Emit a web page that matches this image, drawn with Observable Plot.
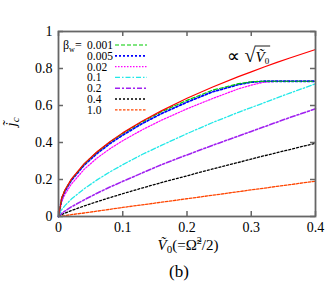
<!DOCTYPE html>
<html><head><meta charset="utf-8">
<script src="https://cdn.jsdelivr.net/npm/d3@7"></script>
<script src="https://cdn.jsdelivr.net/npm/@observablehq/plot@0.6"></script>
<style>
body{margin:0;background:#fff}
</style>
</head><body><div id="chart"></div>
<script>
// ---- data ----
const V0 = [0, 0.005, 0.01, 0.02, 0.04, 0.06, 0.08, 0.1, 0.13, 0.16, 0.2, 0.24, 0.28, 0.30, 0.32, 0.34, 0.36, 0.4];
const jSqrt  = [0, 0.101, 0.143, 0.202, 0.286, 0.350, 0.404, 0.452, 0.515, 0.571, 0.639, 0.700, 0.756, 0.782, 0.808, 0.833, 0.857, 0.903];
const j0001  = [0, 0.100, 0.142, 0.200, 0.284, 0.348, 0.402, 0.449, 0.511, 0.566, 0.628, 0.683, 0.718, 0.728, 0.731, 0.731, 0.731, 0.731];
const j0005  = [0, 0.096, 0.137, 0.195, 0.278, 0.341, 0.394, 0.440, 0.502, 0.556, 0.618, 0.674, 0.713, 0.726, 0.731, 0.731, 0.731, 0.731];
const j002   = [0, 0.080, 0.120, 0.175, 0.255, 0.316, 0.366, 0.410, 0.468, 0.520, 0.582, 0.638, 0.690, 0.710, 0.726, 0.731, 0.731, 0.731];
const j01    = [0, 0.037, 0.059, 0.094, 0.150, 0.198, 0.241, 0.280, 0.335, 0.384, 0.448, 0.508, 0.563, 0.589, 0.615, 0.641, 0.667, 0.717];
const j02    = [0, 0.017, 0.029, 0.052, 0.090, 0.126, 0.159, 0.190, 0.235, 0.280, 0.333, 0.385, 0.435, 0.460, 0.485, 0.510, 0.535, 0.582];
const j04    = [0, 0.010, 0.018, 0.032, 0.057, 0.080, 0.102, 0.123, 0.154, 0.183, 0.220, 0.257, 0.292, 0.310, 0.328, 0.345, 0.362, 0.396];
const j10    = [0, 0.003, 0.005, 0.010, 0.019, 0.029, 0.039, 0.049, 0.063, 0.077, 0.096, 0.115, 0.134, 0.144, 0.153, 0.163, 0.172, 0.191];
const betaLabels = ["0.001", "0.005", "0.02", "0.1", "0.2", "0.4", "1.0"];
const xTicks = [0, 0.1, 0.2, 0.3, 0.4];
const yTicks = [0, 0.2, 0.4, 0.6, 0.8, 1];

// ---- styles ----
const seriesValues = [j0001, j0005, j002, j01, j02, j04, j10];
const styles = [
  {color:"#00cc00", dash:"4,2",       w:1.2},
  {color:"#0000ff", dash:"2,2",       w:1.8},
  {color:"#ff00ff", dash:"1.5,1.5",   w:1.2},
  {color:"#22e8e8", dash:"5,2,1.5,2", w:1.3},
  {color:"#a020f0", dash:"5,2,2,2",   w:1.6},
  {color:"#000000", dash:"2,2",       w:1.3},
  {color:"#ff4500", dash:"2.5,1.5",   w:1.3}
];
const toRows = arr => V0.map((v, i) => ({V: v, j: arr[i]}));

const lineMarks = [];
for (let k = seriesValues.length - 1; k >= 0; k--) {
  lineMarks.push(Plot.line(toRows(seriesValues[k]), {
    x: "V", y: "j", stroke: styles[k].color, strokeWidth: styles[k].w,
    strokeDasharray: styles[k].dash
  }));
}
lineMarks.push(Plot.line(toRows(jSqrt), {x: "V", y: "j", stroke: "#ff0000", strokeWidth: 1.2}));

const fmt = d => d === 0 ? "0" : d === 1 ? "1" : String(d);
const axisColor = "#666";
const SERIF = "Liberation Serif";

const chart = Plot.plot({
  width: 327, height: 285,
  marginLeft: 58, marginRight: 12, marginTop: 31, marginBottom: 69,
  style: {fontFamily: SERIF, background: "#fff"},
  x: {domain: [0, 0.4]},
  y: {domain: [0, 1]},
  marks: [
    ...lineMarks,
    Plot.ruleX(xTicks, {x: d => d, y1: 0, y2: 0.027, stroke: axisColor, strokeWidth: 1.5}),
    Plot.ruleX(xTicks, {x: d => d, y1: 1, y2: 0.973, stroke: axisColor, strokeWidth: 1.5}),
    Plot.ruleY(yTicks, {y: d => d, x1: 0, x2: 0.0078, stroke: axisColor, strokeWidth: 1.5}),
    Plot.ruleY(yTicks, {y: d => d, x1: 0.4, x2: 0.3922, stroke: axisColor, strokeWidth: 1.5}),
    Plot.frame({stroke: axisColor, strokeWidth: 1.8}),
    Plot.axisX({ticks: xTicks, tickSize: 0, tickPadding: 6, tickFormat: fmt, fontSize: 14, label: null, color: "#000"}),
    Plot.axisY({ticks: yTicks, tickSize: 0, tickPadding: 6, tickFormat: fmt, fontSize: 14, label: null, color: "#000"})
  ]
});
document.getElementById("chart").appendChild(chart);

// ---- annotations: labels and legend ----
const svg = d3.select(chart);
const g = svg.append("g").attr("fill", "#000").attr("font-family", SERIF).attr("text-anchor", "start");

// y label (rotated)
const yl = g.append("text").attr("transform", "translate(16,122) rotate(-90)")
  .attr("text-anchor", "middle").attr("font-size", 15);
yl.append("tspan").attr("font-style", "italic").text("j\u0303");
yl.append("tspan").attr("font-style", "italic").attr("font-size", 11).attr("dy", 3).text("c");

// x label
const xl = g.append("text").attr("x", 188).attr("y", 250).attr("text-anchor", "middle").attr("font-size", 15);
xl.append("tspan").attr("font-style", "italic").text("\u1E7C");
xl.append("tspan").attr("font-size", 11).attr("dy", 3).text("0");
xl.append("tspan").attr("dy", -3).text("(=\u03A9\u0303");
xl.append("tspan").attr("font-size", 10).attr("dy", -6).text("2");
xl.append("tspan").attr("dy", 6).text("/2)");

// (b)
g.append("text").attr("x", 179).attr("y", 277).attr("text-anchor", "middle").attr("font-size", 17).text("(b)");

// ∝ sqrt(V0)
const an = g.append("text").attr("x", 227).attr("y", 62).attr("font-size", 18);
an.append("tspan").text("\u221D ");
an.append("tspan").attr("font-size", 20).text("\u221A");
an.append("tspan").attr("font-style", "italic").attr("font-size", 15).text("\u1E7C");
an.append("tspan").attr("font-size", 9).attr("dy", 2).text("0");

// legend
const rowY = i => 45 + i * 10.8;
const lg = g.append("text").attr("x", 63).attr("y", rowY(0) + 4).attr("font-size", 12);
lg.append("tspan").text("\u03B2");
lg.append("tspan").attr("font-size", 8).attr("dy", 3).text("w");
lg.append("tspan").attr("dy", -3).text("=");
betaLabels.forEach((lab, i) => {
  g.append("text").attr("x", 87).attr("y", rowY(i) + 4).attr("font-size", 11.5).text(lab);
  g.append("line").attr("x1", 115).attr("x2", 147).attr("y1", rowY(i)).attr("y2", rowY(i))
    .attr("stroke", styles[i].color).attr("stroke-width", styles[i].w).attr("stroke-dasharray", styles[i].dash);
});

// overline of the radical, placed from measured glyph extents
try {
  const node = an.node();
  const n = node.getNumberOfChars();
  const r = node.getExtentOfChar(2);
  const last = node.getExtentOfChar(n - 1);
  g.append("line").attr("x1", r.x + r.width - 0.8).attr("x2", last.x + last.width + 1)
    .attr("y1", r.y + 2).attr("y2", r.y + 2).attr("stroke", "#000").attr("stroke-width", 0.9);
} catch (e) {}
</script>
</body></html>
